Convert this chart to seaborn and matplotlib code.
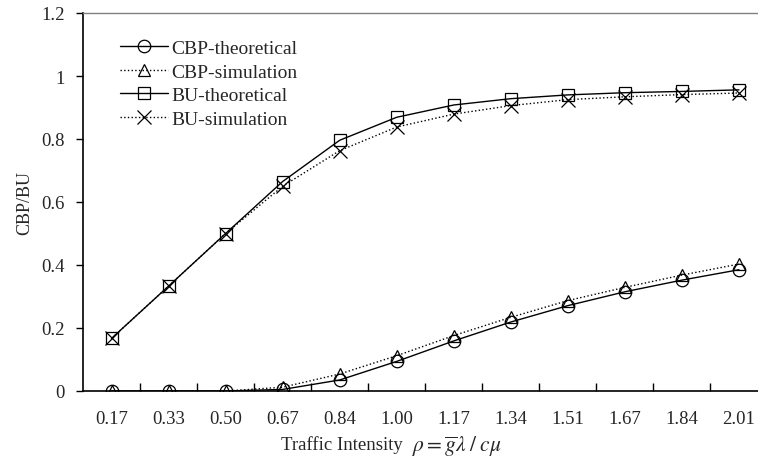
import numpy as np
import seaborn as sns
import matplotlib
matplotlib.use("Agg")
from matplotlib import pyplot as plt
from matplotlib.ticker import FixedLocator, FuncFormatter

rho_labels = ['0.17', '0.33', '0.50', '0.67', '0.84', '1.00',
              '1.17', '1.34', '1.51', '1.67', '1.84', '2.01']
cbp_theory = [0.0, 0.0, 0.0, 0.005, 0.035, 0.094, 0.159, 0.219, 0.271, 0.315, 0.352, 0.385]
cbp_sim = [0.0, 0.0, 0.0, 0.012, 0.054, 0.112, 0.176, 0.234, 0.287, 0.329, 0.368, 0.403]
bu_theory = [0.167, 0.333, 0.500, 0.665, 0.796, 0.869, 0.908, 0.928, 0.940, 0.947, 0.951, 0.956]
bu_sim = [0.167, 0.333, 0.500, 0.650, 0.763, 0.838, 0.879, 0.906, 0.925, 0.934, 0.941, 0.946]

sns.set_style('white')
plt.rcParams['font.family'] = ['Liberation Serif', 'DejaVu Serif']
plt.rcParams['mathtext.fontset'] = 'stix'

fig = plt.figure(figsize=(7.58, 4.64), dpi=100)
W, H = 758, 464
ax = fig.add_axes([83 / W, (H - 392) / H, (767.5 - 83) / W, (392 - 14) / H])

x = np.arange(len(rho_labels))
series = [
    (cbp_theory, 'CBP-theoretical', '-', 'o'),
    (cbp_sim, 'CBP-simulation', ':', '^'),
    (bu_theory, 'BU-theoretical', '-', 's'),
    (bu_sim, 'BU-simulation', ':', 'x'),
]
for vals, lab, ls, mk in series:
    sns.lineplot(x=x, y=vals, ax=ax, color='black', linestyle=ls, linewidth=1.0,
                 marker=mk, markersize=9 if mk != 'x' else 10, markerfacecolor='none',
                 markeredgecolor='black', markeredgewidth=0.9, label=lab)

ax.set_xlim(-0.5, len(rho_labels) - 0.5)
ax.set_ylim(0, 1.2)
ax.set_xticks(x)
ax.set_xticklabels(rho_labels)
ax.xaxis.set_minor_locator(FixedLocator(np.arange(0.5, len(rho_labels) - 0.5, 1)))
ax.tick_params(axis='x', which='major', length=0, pad=14, labelsize=13.5)
ax.tick_params(axis='x', which='minor', direction='in', length=6, width=1, color='black', bottom=True)
ax.set_yticks(np.arange(0, 1.21, 0.2))
ax.yaxis.set_major_formatter(FuncFormatter(lambda v, p: '{:g}'.format(round(v, 1))))
ax.tick_params(axis='y', direction='out', length=5, width=1, color='black', left=True, labelsize=13.5, pad=8)

for side in ['left', 'bottom']:
    ax.spines[side].set_color('black')
    ax.spines[side].set_linewidth(1.2)
ax.spines['top'].set_color('#808080')
ax.spines['top'].set_linewidth(1.0)
ax.spines['right'].set_visible(False)

ax.set_ylabel('CBP/BU', fontsize=13, labelpad=6)

# x label: plain text plus a larger formula
fig.text(281 / W, 1 - 445 / H, 'Traffic Intensity', fontsize=13.5, ha='left', va='center')
fig.text(412 / W, 1 - 447 / H, r'$\rho = \overline{g}\lambda\;/\;c\mu$', fontsize=15.5,
         ha='left', va='center')

leg = ax.legend(loc='upper left', bbox_to_anchor=(0.042, 0.95), frameon=False, fontsize=14,
                handlelength=2.5, labelspacing=0.3, handletextpad=0.15, borderaxespad=0)

fig.savefig('out.png', dpi=100)
